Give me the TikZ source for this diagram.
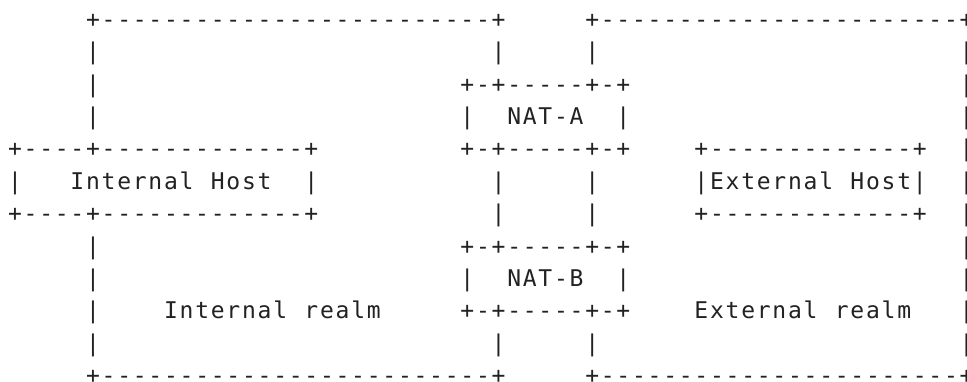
\documentclass[tikz,border=0pt]{standalone}
\usepackage{fontspec}
\newfontfamily\asciifont{DejaVu Sans Mono}
\ExplSyntaxOn
\NewDocumentCommand\mono{m}{\str_map_inline:nn{#1}{\makebox[15.6pt]{##1}}}
\ExplSyntaxOff
\definecolor{ink}{HTML}{222222}
\begin{document}
\begin{tikzpicture}[x=1pt,y=1pt,
  txt/.style={anchor=base west, inner sep=0pt, outer sep=0pt, text=ink,
              font=\asciifont\fontsize{23}{23}\selectfont}]
\useasboundingbox (0,0) rectangle (967,-381);
\newcommand\asc[4]{\node[txt] (#1) at ({7.2+15.6*#2},{-(27.2+32.4*#3)}) {\mono{#4}};}
% row 0
\asc{r0a}{5}{0}{+-------------------------+}
\asc{r0b}{37}{0}{+-----------------------+}
% row 1
\asc{r1a}{5}{1}{|}
\asc{r1b}{31}{1}{|}
\asc{r1c}{37}{1}{|}
\asc{r1d}{61}{1}{|}
% row 2
\asc{r2a}{5}{2}{|}
\asc{r2b}{29}{2}{+-+-----+-+}
\asc{r2c}{61}{2}{|}
% row 3
\asc{r3a}{5}{3}{|}
\asc{r3b}{29}{3}{|}
\asc{nata}{32}{3}{NAT-A}
\asc{r3c}{39}{3}{|}
\asc{r3d}{61}{3}{|}
% row 4
\asc{r4a}{0}{4}{+----+-------------+}
\asc{r4b}{29}{4}{+-+-----+-+}
\asc{r4c}{44}{4}{+-------------+}
\asc{r4d}{61}{4}{|}
% row 5
\asc{r5a}{0}{5}{|}
\asc{inthost}{4}{5}{Internal Host}
\asc{r5b}{19}{5}{|}
\asc{r5c}{31}{5}{|}
\asc{r5d}{37}{5}{|}
\asc{exthost}{44}{5}{|External Host|}
\asc{r5e}{61}{5}{|}
% row 6
\asc{r6a}{0}{6}{+----+-------------+}
\asc{r6b}{31}{6}{|}
\asc{r6c}{37}{6}{|}
\asc{r6d}{44}{6}{+-------------+}
\asc{r6e}{61}{6}{|}
% row 7
\asc{r7a}{5}{7}{|}
\asc{r7b}{29}{7}{+-+-----+-+}
\asc{r7c}{61}{7}{|}
% row 8
\asc{r8a}{5}{8}{|}
\asc{r8b}{29}{8}{|}
\asc{natb}{32}{8}{NAT-B}
\asc{r8c}{39}{8}{|}
\asc{r8d}{61}{8}{|}
% row 9
\asc{r9a}{5}{9}{|}
\asc{intrealm}{10}{9}{Internal realm}
\asc{r9b}{29}{9}{+-+-----+-+}
\asc{extrealm}{44}{9}{External realm}
\asc{r9c}{61}{9}{|}
% row 10
\asc{r10a}{5}{10}{|}
\asc{r10b}{31}{10}{|}
\asc{r10c}{37}{10}{|}
\asc{r10d}{61}{10}{|}
% row 11
\asc{r11a}{5}{11}{+-------------------------+}
\asc{r11b}{37}{11}{+-----------------------+}
\end{tikzpicture}
\end{document}
